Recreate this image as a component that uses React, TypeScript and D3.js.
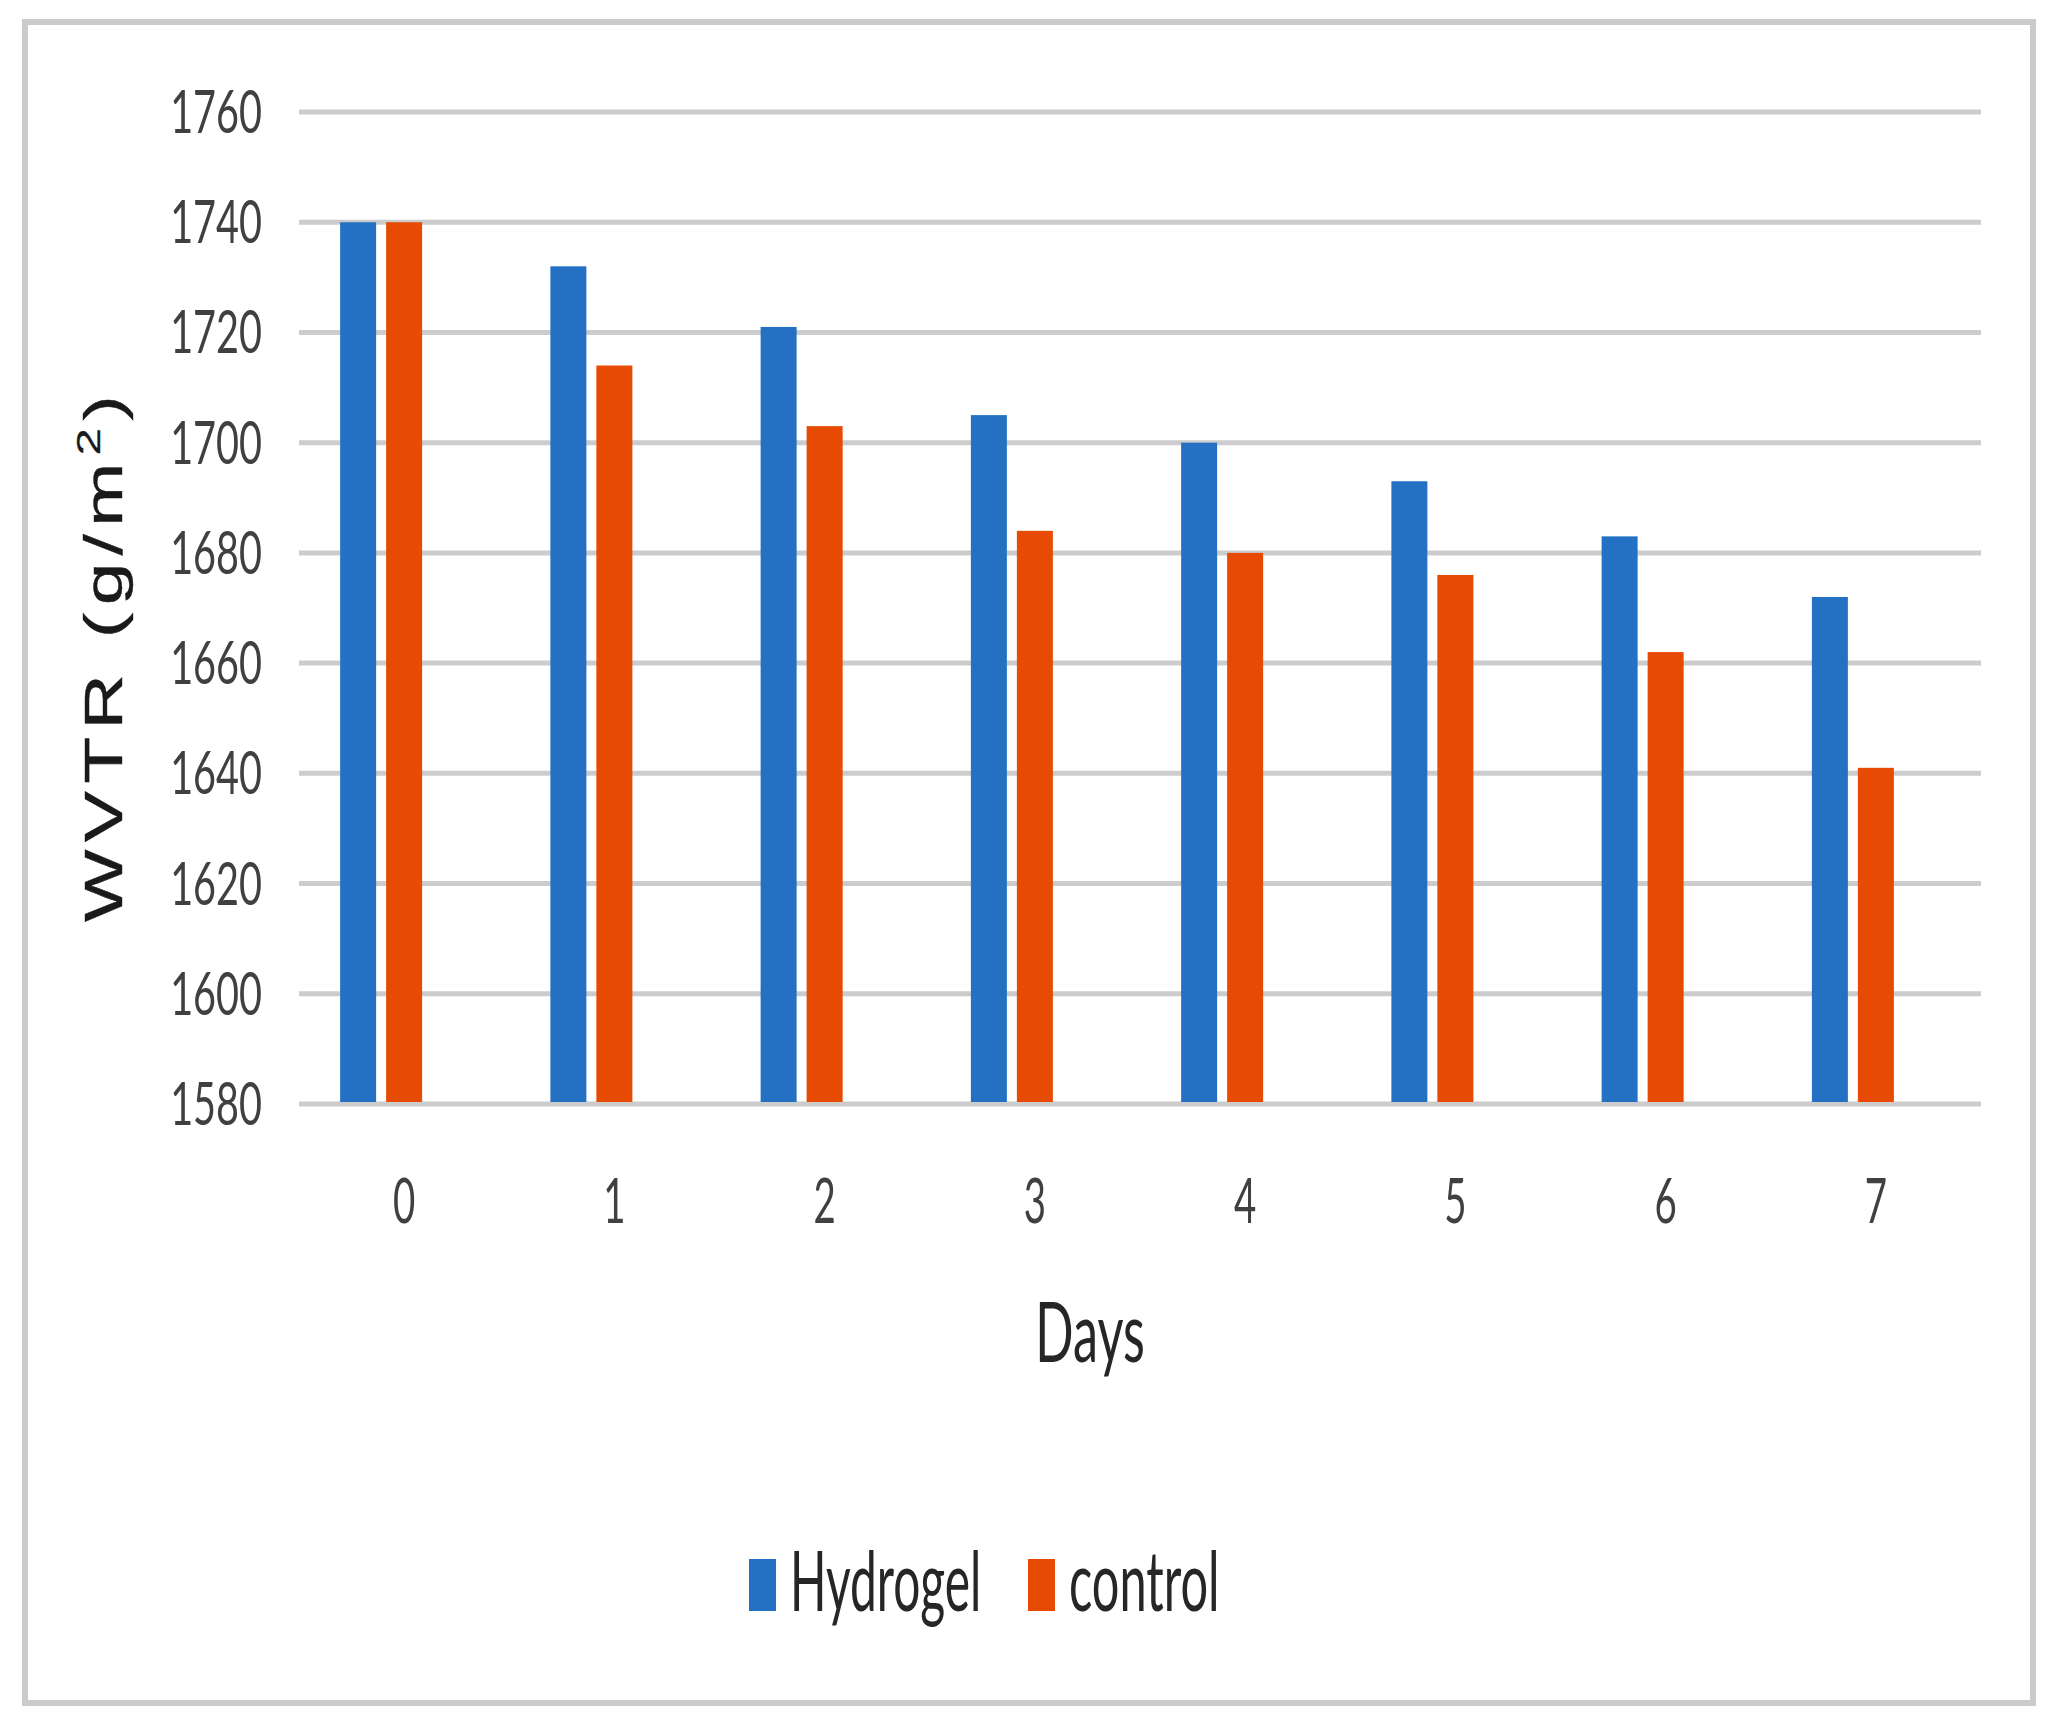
import React from "react";
import * as d3 from "d3";

const days = ["0", "1", "2", "3", "4", "5", "6", "7"];
const hydrogel = [1740, 1732, 1721, 1705, 1700, 1693, 1683, 1672];
const control = [1740, 1714, 1703, 1684, 1680, 1676, 1662, 1641];
const yTicks = [1580, 1600, 1620, 1640, 1660, 1680, 1700, 1720, 1740, 1760];
const seriesNames = ["Hydrogel", "control"];
const seriesColors = ["#2471c4", "#e64a03"];

const W = 2052;
const H = 1723;

export default function App() {
  const x0 = d3.scaleBand<string>().domain(days).range([299, 1981]).padding(0);
  const x1 = d3
    .scaleBand<string>()
    .domain(["Hydrogel", "control", "_empty"])
    .range([0, x0.bandwidth()])
    .paddingInner(0.2174)
    .paddingOuter(0.894);
  const y = d3.scaleLinear().domain([1580, 1760]).range([1104, 112]);
  const series = [hydrogel, control];
  const font = "Lato, 'Liberation Sans', sans-serif";

  return (
    <svg
      width={W}
      height={H}
      style={{ position: "absolute", left: 0, top: 0, background: "#fff" }}
    >
      <rect x={0} y={0} width={W} height={H} fill="#fff" />
      <rect x={25} y={22} width={2008} height={1681} fill="#fff" stroke="#cbcbcb" strokeWidth={6} />
      {/* gridlines */}
      {yTicks.map((t) => (
        <line key={t} x1={299} x2={1981} y1={y(t)} y2={y(t)} stroke="#cccccc" strokeWidth={5} />
      ))}
      {/* bars */}
      {series.map((vals, si) =>
        vals.map((v, i) => (
          <rect
            key={`${si}-${i}`}
            x={(x0(days[i]) as number) + (x1(seriesNames[si]) as number)}
            y={y(v)}
            width={x1.bandwidth()}
            height={y(1580) - y(v) - 2}
            fill={seriesColors[si]}
          />
        ))
      )}
      {/* y tick labels */}
      {yTicks.map((t) => (
        <text
          key={t}
          transform={`translate(262,${y(t) + 21}) scale(0.66,1)`}
          textAnchor="end"
          fontFamily={font}
          fontSize={60}
          fill="#404040"
        >
          {t}
        </text>
      ))}
      {/* x tick labels */}
      {days.map((d) => (
        <text
          key={d}
          transform={`translate(${(x0(d) as number) + (x1("control") as number) + x1.bandwidth() / 2},1223) scale(0.62,1)`}
          textAnchor="middle"
          fontFamily={font}
          fontSize={62}
          fill="#404040"
        >
          {d}
        </text>
      ))}
      {/* x axis title */}
      <text
        transform="translate(1090,1362) scale(0.6,1)"
        textAnchor="middle"
        fontFamily={font}
        fontSize={84}
        fill="#262626"
      >
        Days
      </text>
      {/* y axis title */}
      <text
        transform="translate(122,655) rotate(-90) scale(1.45,1)"
        textAnchor="middle"
        fontFamily="'Liberation Sans', Arial, sans-serif"
        fontSize={53}
        letterSpacing={5}
        fill="#1a1a1a"
        stroke="#1a1a1a"
        strokeWidth={0.4}
      >
        WVTR (g/m
        <tspan fontSize={34} dy={-22} strokeWidth={0.3}>2</tspan>
        <tspan dy={22}>)</tspan>
      </text>
      {/* legend */}
      {seriesNames.map((s, i) => {
        const lx = [749, 1028][i];
        return (
          <g key={s}>
            <rect x={lx} y={1559} width={27} height={52} fill={seriesColors[i]} />
            <text
              transform={`translate(${lx + 41},1611) scale(${i === 0 ? 0.57 : 0.58},1)`}
              fontFamily={font}
              fontSize={84}
              fill="#262626"
            >
              {s}
            </text>
          </g>
        );
      })}
    </svg>
  );
}
